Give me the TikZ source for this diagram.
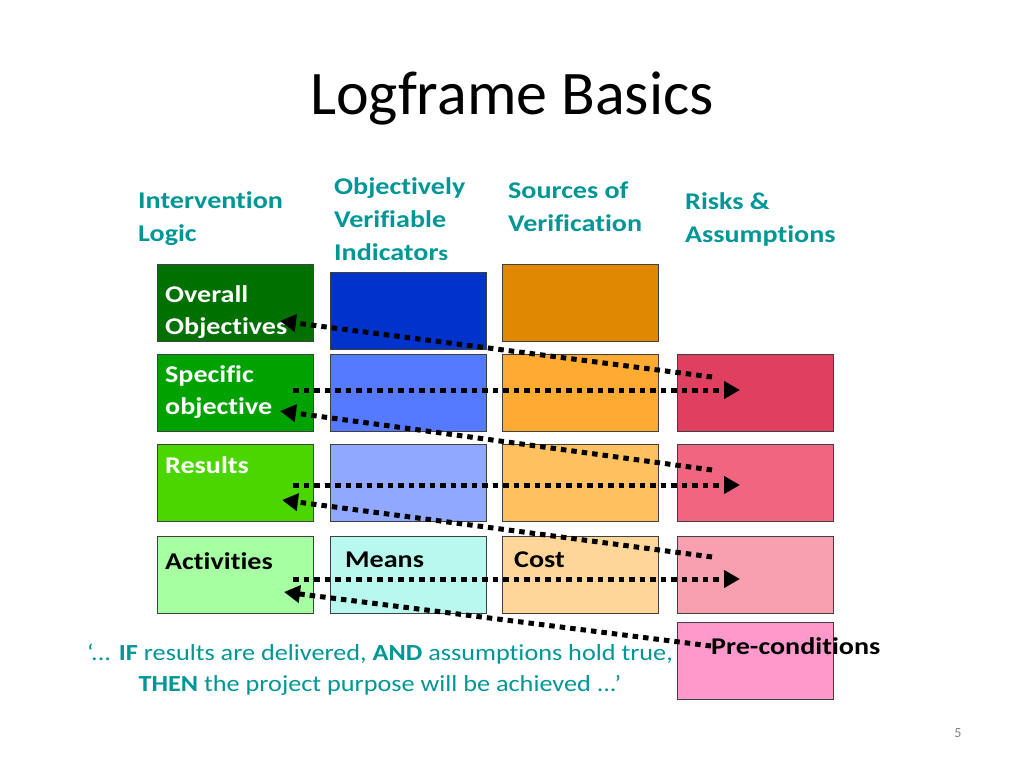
\documentclass[tikz,border=0pt]{standalone}
\usepackage{fontspec}
\setmainfont{Carlito}
\newfontfamily\widefont{Carlito}[FakeStretch=1.17, Ligatures=NoCommon]
\newfontfamily\quotefont{Carlito}[FakeStretch=1.14, Ligatures=NoCommon]
\usetikzlibrary{arrows.meta}
\definecolor{hdteal}{RGB}{0,150,150}
\definecolor{ca}{RGB}{0,112,0}
\definecolor{cb}{RGB}{0,162,0}
\definecolor{cc}{RGB}{76,214,0}
\definecolor{cd}{RGB}{166,255,160}
\definecolor{ce}{RGB}{0,51,204}
\definecolor{cf}{RGB}{85,122,255}
\definecolor{cg}{RGB}{144,168,255}
\definecolor{ch}{RGB}{184,248,238}
\definecolor{ci}{RGB}{224,136,0}
\definecolor{cj}{RGB}{255,170,51}
\definecolor{ck}{RGB}{255,192,96}
\definecolor{cl}{RGB}{255,214,153}
\definecolor{cm}{RGB}{224,64,96}
\definecolor{cn}{RGB}{240,102,128}
\definecolor{co}{RGB}{248,160,176}
\definecolor{cp}{RGB}{255,153,204}
\tikzset{
    cell/.style={draw=black!75, line width=0.8pt, anchor=north west, minimum width=156pt, minimum height=77pt, inner sep=0pt},
    head/.style={anchor=west, align=left, text=hdteal, inner sep=0pt, font=\widefont\bfseries\fontsize{24}{33}\selectfont},
    lbl/.style={anchor=west, align=left, inner sep=0pt, font=\widefont\bfseries\fontsize{24}{32}\selectfont},
    link/.style={line width=5pt, dash pattern=on 5.5pt off 5pt, -{Triangle[length=16pt,width=17pt]}}
}
\begin{document}
\begin{tikzpicture}[x=1pt,y=-1pt]
                \useasboundingbox (0,0) rectangle (1024,768);
                \node[font=\fontsize{62}{66}\selectfont] (title) at (512,98) {Logframe Basics};
                \node[head] (il) at (138,219) {Intervention\\Logic};
                \node[head] (ovi) at (334,219) {Objectively\\Verifiable\\Indicator{\fontsize{21}{33}\selectfont s}};
                \node[head] (sov) at (508,207) {Sources of\\Verification};
                \node[head] (ra) at (685,219) {Risks \&\\Assumptions};
                \foreach \n/\x/\y/\col in {ov/157/264/ca, so/157/354/cb, re/157/444/cc, ac/157/536/cd,
                    i1/330/272/ce, i2/330/354/cf, i3/330/444/cg, me/330/536/ch,
                    s1/502/264/ci, s2/502/354/cj, s3/502/444/ck, co/502/536/cl,
                    r2/677/354/cm, r3/677/444/cn, r4/677/536/co, pc/677/622/cp}
                    \node[cell, fill=\col] (\n) at (\x,\y) {};
                \node[lbl, text=white] (ovt) at (165,312) {Overall\\Objectives};
                \node[lbl, text=white] (sot) at (165,392) {Specific\\objective};
                \node[lbl, text=white] (ret) at (165,465) {Results};
                \node[lbl] (act) at (165,561) {Activities};
                \node[lbl] (met) at (345,560) {Means};
                \node[lbl] (cot) at (514,560) {Cost};
                \node[lbl] (pct) at (711,646) {Pre-conditions};
                \coordinate (ovin) at (280,321);
                \coordinate (soout) at (293,390);
                \coordinate (soin) at (280,411);
                \coordinate (reout) at (293,485);
                \coordinate (rein) at (282,500);
                \coordinate (acout) at (293,579);
                \coordinate (acin) at (284,592);
                \coordinate (r2in) at (712,377);
                \coordinate (r2out) at (740,390);
                \coordinate (r3in) at (712,470);
                \coordinate (r3out) at (740,485);
                \coordinate (r4in) at (712,557);
                \coordinate (r4out) at (740,579);
                \draw[link] (r2in) -- (ovin);
                \draw[link] (soout) -- (r2out);
                \draw[link] (r3in) -- (soin);
                \draw[link] (reout) -- (r3out);
                \draw[link] (r4in) -- (rein);
                \draw[link] (acout) -- (r4out);
                \draw[link] (pct.west) -- (acin);
                \node[align=center, text=hdteal, font=\quotefont\fontsize{23}{31}\selectfont] (quote) at (380,670) {‘... \textbf{IF} results are delivered, \textbf{AND} assumptions hold true,\\\textbf{THEN} the project purpose will be achieved ...’};
                \node[text=gray, font=\fontsize{14}{16}\selectfont] (pg) at (958,733) {5};
            \end{tikzpicture}
\end{document}
